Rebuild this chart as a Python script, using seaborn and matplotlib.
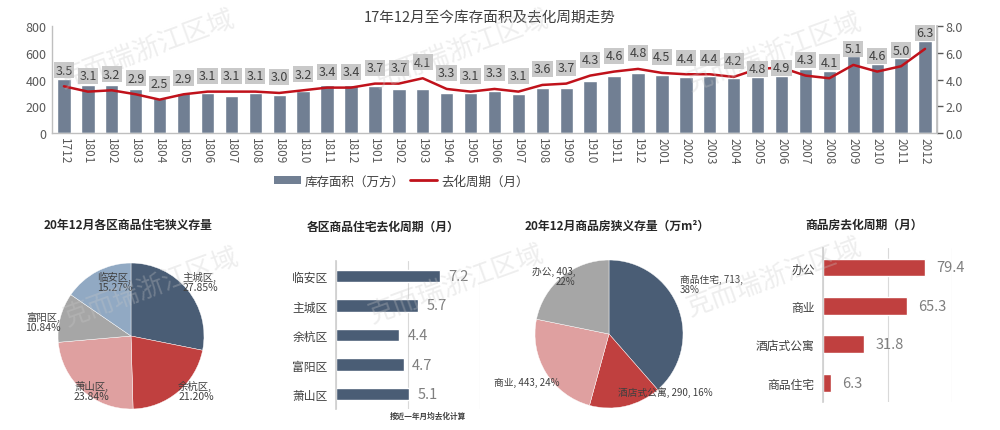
import numpy as np
import pandas as pd
import matplotlib
matplotlib.use('Agg')
import matplotlib.pyplot as plt
import seaborn as sns
from matplotlib.patches import Patch
from matplotlib.lines import Line2D

# ---------------- data ----------------
months = ['1712', '1801', '1802', '1803', '1804', '1805', '1806', '1807', '1808', '1809',
          '1810', '1811', '1812', '1901', '1902', '1903', '1904', '1905', '1906', '1907',
          '1908', '1909', '1910', '1911', '1912', '2001', '2002', '2003', '2004', '2005',
          '2006', '2007', '2008', '2009', '2010', '2011', '2012']
stock = [403, 360, 360, 328, 261, 301, 296, 278, 296, 286,
         311, 356, 360, 353, 331, 331, 296, 296, 316, 291,
         336, 336, 390, 430, 452, 435, 418, 430, 415, 422,
         428, 477, 467, 579, 514, 559, 688]
cycle = [3.5, 3.1, 3.2, 2.9, 2.5, 2.9, 3.1, 3.1, 3.1, 3.0,
         3.2, 3.4, 3.4, 3.7, 3.7, 4.1, 3.3, 3.1, 3.3, 3.1,
         3.6, 3.7, 4.3, 4.6, 4.8, 4.5, 4.4, 4.4, 4.2, 4.8,
         4.9, 4.3, 4.1, 5.1, 4.6, 5.0, 6.3]

district_names = ['主城区', '余杭区', '萧山区', '富阳区', '临安区']
district_share = [27.85, 21.20, 23.84, 10.84, 15.27]

cycle_districts = ['临安区', '主城区', '余杭区', '富阳区', '萧山区']
cycle_district_values = [7.2, 5.7, 4.4, 4.7, 5.1]

type_names = ['商品住宅', '酒店式公寓', '商业', '办公']
type_stock = [713, 290, 443, 403]
type_pct = [38, 16, 24, 22]

cycle_types = ['办公', '商业', '酒店式公寓', '商品住宅']
cycle_type_values = [79.4, 65.3, 31.8, 6.3]

# ---------------- style ----------------
sns.set_theme(style='white')
plt.rcParams['font.family'] = ['Noto Sans CJK SC', 'DejaVu Sans']
plt.rcParams['axes.unicode_minus'] = False

BAR = '#717f93'
RED_LINE = '#c0121b'
DARK = '#4a5d75'
RED = '#c0403f'
PINK = '#dfa0a0'
GRAY = '#a6a6a6'
LIGHTBLUE = '#91a9c3'
TXT = '#404040'
TICK = '#595959'
SPINE = '#bfbfbf'

fig = plt.figure(figsize=(10, 4.31), dpi=100)

# ---------------- top combo chart ----------------
ax = fig.add_axes([0.052, 0.689, 0.885, 0.248])
df_top = pd.DataFrame({'month': months, 'stock': stock, 'cycle': cycle})
sns.barplot(data=df_top, x='month', y='stock', color=BAR, saturation=1,
            width=0.56, ax=ax, zorder=2)
ax.set_xlim(-0.5, len(months) - 0.5)
ax.set_ylim(0, 800)
ax.set_yticks([0, 200, 400, 600, 800])
ax.set_xlabel('')
ax.set_ylabel('')
ax.tick_params(axis='x', labelrotation=270, labelsize=8.5, colors=TICK, length=0, pad=3)
ax.tick_params(axis='y', labelsize=9, colors=TICK, length=0, pad=4)
ax.spines['top'].set_visible(False)
for s in ['left', 'bottom', 'right']:
    ax.spines[s].set_color(SPINE)
    ax.spines[s].set_linewidth(1)

ax2 = ax.twinx()
x_pos = np.arange(len(months))
sns.lineplot(x=x_pos, y=cycle, color=RED_LINE, linewidth=1.8, ax=ax2, zorder=3)
ax2.set_ylim(0, 8)
ax2.set_yticks([0, 2, 4, 6, 8])
ax2.yaxis.set_major_formatter('{x:.1f}')
ax2.tick_params(axis='y', labelsize=9, colors=TICK, length=4, width=1, pad=2)
for t in ax2.get_yticklines():
    t.set_color(SPINE)
ax2.spines['top'].set_visible(False)
ax2.spines['left'].set_visible(False)
ax2.spines['bottom'].set_visible(False)
ax2.spines['right'].set_color(SPINE)
ax2.set_ylabel('')

on_line_labels = {'2005', '2006'}
for i, (m, v) in enumerate(zip(months, cycle)):
    dy = 0 if m in on_line_labels else 11.5
    ax2.annotate(f'{v:.1f}', (i, v), xytext=(0, dy), textcoords='offset points',
                 ha='center', va='center', fontsize=9, color=TXT, zorder=6,
                 bbox=dict(boxstyle='square,pad=0.12', fc='#c9c9c9', ec='none'))

fig.text(0.49, 0.958, '17年12月至今库存面积及去化周期走势', ha='center', va='center',
         fontsize=10.5, color=TXT)

handles = [Patch(facecolor=BAR, edgecolor='none'),
           Line2D([0], [0], color=RED_LINE, linewidth=2)]
fig.legend(handles, ['库存面积（万方）', '去化周期（月）'], loc='center',
           bbox_to_anchor=(0.401, 0.578), ncol=2, frameon=False, fontsize=9,
           handlelength=2.2, handleheight=0.6, columnspacing=0.4, handletextpad=0.3,
           labelcolor=TXT)

# ---------------- pie 1 ----------------
axp1 = fig.add_axes([0.058, 0.0487, 0.146, 0.3387])
labels1 = [f'{n},\n{s:.2f}%' for n, s in zip(district_names, district_share)]
_, texts1 = axp1.pie(district_share, labels=labels1,
                     colors=[DARK, RED, PINK, GRAY, LIGHTBLUE],
                     startangle=90, counterclock=False, labeldistance=1.0,
                     wedgeprops=dict(edgecolor='white', linewidth=0.3),
                     textprops=dict(fontsize=7.5, color=TXT, linespacing=1.0))
# label layout (alignment, nudge in radius units)
pie1_layout = {'主城区': ('left', -0.07, 0.11), '余杭区': ('left', 0.0, 0.02),
               '萧山区': ('center', 0.12, 0.0), '富阳区': ('right', 0.0, -0.05),
               '临安区': ('left', 0.0, -0.14)}
for n, t in zip(district_names, texts1):
    ha, dx, dy = pie1_layout[n]
    x, y = t.get_position()
    t.set_position((x + dx, y + dy))
    t.set_ha(ha)
axp1.set_xlim(-1, 1)
axp1.set_ylim(-1, 1)
fig.text(0.128, 0.478, '20年12月各区商品住宅狭义存量', ha='center', va='center',
         fontsize=8.5, fontweight='bold', color='#262626')

# ---------------- hbar 2 ----------------
axb2 = fig.add_axes([0.336, 0.0487, 0.144, 0.3434])
sns.barplot(x=cycle_district_values, y=cycle_districts, orient='h', color=DARK,
            saturation=1, width=0.42, ax=axb2, zorder=2)
axb2.set_xlim(0, 10)
axb2.set_ylim(len(cycle_districts) - 0.5, -0.5)
axb2.set_xticks([0, 5, 10])
axb2.set_xticklabels([])
axb2.grid(axis='x', color='#d9d9d9', linewidth=0.8, zorder=0)
axb2.tick_params(axis='y', labelsize=8.5, colors=TXT, length=0, pad=6)
axb2.tick_params(axis='x', length=0)
for s in ['top', 'right', 'bottom']:
    axb2.spines[s].set_visible(False)
axb2.spines['left'].set_color('#d0d0d0')
axb2.bar_label(axb2.containers[0], fmt='%.1f', padding=6, fontsize=10.5, color='#7f7f7f')
fig.text(0.383, 0.473, '各区商品住宅去化周期（月）', ha='center', va='center',
         fontsize=8.5, fontweight='bold', color='#262626')
fig.text(0.428, 0.035, '按近一年月均去化计算', ha='center', va='center',
         fontsize=5.5, fontweight='bold', color='#404040')

# ---------------- pie 2 ----------------
axp2 = fig.add_axes([0.535, 0.051, 0.148, 0.3434])
wrapped = {'商品住宅', '办公'}
labels2 = [f'{n}, {v},\n{p}%' if n in wrapped else f'{n}, {v}, {p}%'
           for n, v, p in zip(type_names, type_stock, type_pct)]
_, texts2 = axp2.pie(type_stock, labels=labels2, colors=[DARK, RED, PINK, GRAY],
                     startangle=90, counterclock=False, labeldistance=1.02,
                     wedgeprops=dict(edgecolor='white', linewidth=0.3),
                     textprops=dict(fontsize=7, color=TXT, linespacing=1.0))
pie2_layout = {'商品住宅': (0.0, 0.32), '酒店式公寓': (-0.11, 0.22),
               '商业': (0.2, -0.12), '办公': (0.19, 0.0)}
for n, t in zip(type_names, texts2):
    dx, dy = pie2_layout[n]
    x, y = t.get_position()
    t.set_position((x + dx, y + dy))
axp2.set_xlim(-1, 1)
axp2.set_ylim(-1, 1)
fig.text(0.617, 0.476, '20年12月商品房狭义存量（万m²）', ha='center', va='center',
         fontsize=8.5, fontweight='bold', color='#262626')

# ---------------- hbar 4 ----------------
axb4 = fig.add_axes([0.823, 0.065, 0.129, 0.357])
sns.barplot(x=cycle_type_values, y=cycle_types, orient='h', color=RED,
            saturation=1, width=0.46, ax=axb4, zorder=2)
axb4.set_xlim(0, 100)
axb4.set_ylim(len(cycle_types) - 0.5, -0.5)
axb4.set_xticks([0, 50, 100])
axb4.set_xticklabels([])
axb4.grid(axis='x', color='#d9d9d9', linewidth=0.8, zorder=0)
axb4.tick_params(axis='y', which='major', labelsize=8.5, colors=TXT, length=0, pad=6)
axb4.set_yticks(np.arange(len(cycle_types) - 1) + 0.5, minor=True)
axb4.tick_params(axis='y', which='minor', length=4, color='#d0d0d0', direction='out')
axb4.tick_params(axis='x', length=0)
for s in ['top', 'right', 'bottom']:
    axb4.spines[s].set_visible(False)
axb4.spines['left'].set_color('#d0d0d0')
axb4.bar_label(axb4.containers[0], fmt='%.1f', padding=8, fontsize=10.5, color='#7f7f7f')
fig.text(0.864, 0.478, '商品房去化周期（月）', ha='center', va='center',
         fontsize=8.5, fontweight='bold', color='#262626')

# ---------------- watermark ----------------
for (wx, wy) in [(0.063, 0.796), (0.377, 0.796), (0.690, 0.790),
                 (0.067, 0.245), (0.372, 0.252), (0.690, 0.268)]:
    fig.text(wx, wy, '克而瑞浙江区域', rotation=20, rotation_mode='anchor',
             ha='left', va='baseline', fontsize=19, color='#c8c8c8', alpha=0.3,
             zorder=20)

fig.savefig('out.png', dpi=100)
